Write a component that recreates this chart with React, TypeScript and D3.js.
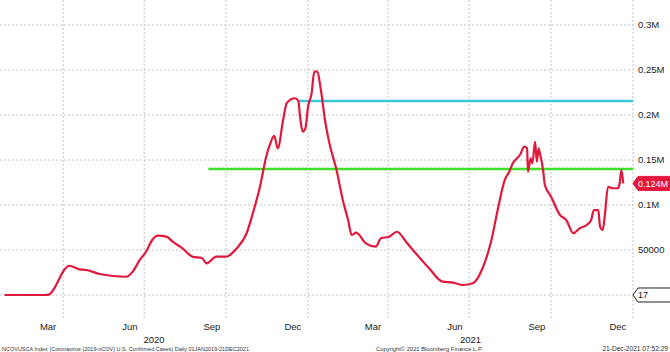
import { useEffect, useRef } from "react";
import * as d3 from "d3";

// NCOVUSCA daily confirmed cases
const dates2020 = [
  "2020-01-26", "2020-03-11", "2020-03-16", "2020-03-22", "2020-03-28", "2020-04-02", "2020-04-08", "2020-04-19",
  "2020-04-27", "2020-05-12", "2020-05-27", "2020-06-11", "2020-06-18", "2020-06-26", "2020-07-03", "2020-07-10",
  "2020-07-16", "2020-07-26", "2020-08-02", "2020-08-13", "2020-08-24", "2020-09-04", "2020-09-09", "2020-09-20",
  "2020-10-01", "2020-10-13", "2020-10-24", "2020-10-31", "2020-11-08", "2020-11-15", "2020-11-19", "2020-11-24",
  "2020-11-28", "2020-12-04", "2020-12-08", "2020-12-17", "2020-12-21", "2020-12-23", "2020-12-26", "2020-12-29",
];
const cases2020 = [
  0, 0, 500, 7400, 19000, 27800, 32500, 28500,
  27800, 23300, 21100, 20300, 25900, 38900, 48100, 61100,
  65900, 64800, 59200, 51900, 42600, 40800, 35200, 42600,
  42600, 51900, 68600, 90800, 120300, 153700, 166700, 176700,
  163000, 194400, 213000, 218600, 215900, 198100, 181400, 185200,
];
const dates2021 = [
  "2021-01-01", "2021-01-05", "2021-01-08", "2021-01-11", "2021-01-16", "2021-01-20", "2021-01-25", "2021-02-02",
  "2021-02-09", "2021-02-15", "2021-02-19", "2021-02-24", "2021-03-07", "2021-03-18", "2021-03-24", "2021-04-02",
  "2021-04-11", "2021-04-21", "2021-05-02", "2021-05-17", "2021-06-01", "2021-06-13", "2021-06-24", "2021-07-05",
  "2021-07-16", "2021-07-26", "2021-08-02", "2021-08-10", "2021-08-15", "2021-08-19", "2021-08-27", "2021-09-01",
  "2021-09-04", "2021-09-05", "2021-09-08", "2021-09-10", "2021-09-13", "2021-09-15", "2021-09-17", "2021-09-18",
  "2021-09-22", "2021-09-24", "2021-10-01", "2021-10-11", "2021-10-18", "2021-10-26", "2021-11-02", "2021-11-10",
  "2021-11-15", "2021-11-18", "2021-11-23", "2021-11-25", "2021-11-28", "2021-11-30", "2021-12-04", "2021-12-09",
  "2021-12-15", "2021-12-17", "2021-12-19", "2021-12-21",
];
const cases2021 = [
  209200, 224100, 248100, 248100, 224100, 194400, 168600, 138900,
  105600, 83300, 66700, 69200, 57400, 53700, 63000, 64800,
  70300, 59200, 46300, 29700, 14800, 13700, 11100, 13000,
  29700, 61100, 94400, 127800, 137000, 146300, 155600, 164800,
  163000, 137000, 151900, 146300, 170300, 148100, 163000, 159200,
  138900, 122200, 109200, 88900, 83300, 68600, 74100, 77800,
  83300, 94400, 94400, 75900, 72200, 85200, 120300, 118600,
  118600, 124100, 138900, 124000,
];

// horizontal reference levels (green, cyan)
const levelStarts = ["2020-09-11", "2020-12-21"];
const levelValues = [140000, 215500];

const yTicks = [0, 50000, 100000, 150000, 200000, 250000, 300000];
const yTickLabels = ["", "50000", "0.1M", "0.15M", "0.2M", "0.25M", "0.3M"];
const monthNames = ["Mar", "Jun", "Sep", "Dec"];
const years = [2020, 2021];

const lastLabel = "0.124M";
const lastValue = 124000;
const otherLabel = "17";
const otherValue = 17;

const footerLeft = "NCOVUSCA Index (Coronavirus (2019-nCOV) U.S. Confirmed Cases)  Daily 01JAN2019-21DEC2021";
const footerMid = "Copyright\u00a9 2021 Bloomberg Finance L.P.";
const footerRight = "21-Dec-2021 07:52:29";

export default function App() {
  const svgRef = useRef<SVGSVGElement>(null);

  useEffect(() => {
    if (!svgRef.current) return;
    const svg = d3.select(svgRef.current);
    svg.selectAll("*").remove();

    const width = 670;
    const height = 352;
    const font = "'Liberation Sans', Arial, sans-serif";
    const parse = d3.timeParse("%Y-%m-%d");

    const data = [
      ...dates2020.map((d, i) => ({ date: parse(d)!, v: cases2020[i] })),
      ...dates2021.map((d, i) => ({ date: parse(d)!, v: cases2021[i] })),
    ];

    const x = d3
      .scaleTime()
      .domain([new Date(2020, 0, 21), new Date(2022, 0, 1)])
      .range([0, 633]);
    const y = d3.scaleLinear().domain([0, 300000]).range([295, 25]);
    const right = x(new Date(2022, 0, 1));

    svg.attr("viewBox", `0 0 ${width} ${height}`);
    svg.append("rect").attr("width", width).attr("height", height).attr("fill", "#ffffff");

    // Grid
    svg
      .selectAll(".grid-y")
      .data(yTicks)
      .join("line")
      .attr("x1", 0)
      .attr("x2", right)
      .attr("y1", (d) => y(d))
      .attr("y2", (d) => y(d))
      .attr("stroke", "#c4c4c4")
      .attr("stroke-width", 1)
      .attr("stroke-dasharray", "2,2");

    const quarterLines = d3.timeMonth
      .range(new Date(2020, 1, 1), new Date(2022, 0, 2))
      .filter((d) => d.getMonth() % 3 === 0);
    svg
      .selectAll(".grid-x")
      .data(quarterLines)
      .join("line")
      .attr("x1", (d) => x(d))
      .attr("x2", (d) => x(d))
      .attr("y1", 0)
      .attr("y2", 318)
      .attr("stroke", "#c4c4c4")
      .attr("stroke-width", 1)
      .attr("stroke-dasharray", "2,2");

    // Reference levels
    const levelColors = ["#3ee02a", "#3cc6d6"];
    levelValues.forEach((v, i) => {
      svg
        .append("line")
        .attr("x1", x(parse(levelStarts[i])!))
        .attr("x2", right)
        .attr("y1", y(v))
        .attr("y2", y(v))
        .attr("stroke", levelColors[i])
        .attr("stroke-width", 2.5);
    });

    // Cases line
    const line = d3
      .line<(typeof data)[0]>()
      .x((d) => x(d.date))
      .y((d) => y(d.v))
      .curve(d3.curveMonotoneX);
    svg
      .append("path")
      .datum(data)
      .attr("d", line)
      .attr("fill", "none")
      .attr("stroke", "#e0183c")
      .attr("stroke-width", 2.2)
      .attr("stroke-linejoin", "round");

    // Right axis labels
    svg
      .selectAll(".ytick")
      .data(yTicks.filter((_, i) => yTickLabels[i] !== ""))
      .join("text")
      .attr("x", 638)
      .attr("y", (d) => y(d))
      .attr("dy", "0.35em")
      .attr("fill", "#1a1a1a")
      .attr("font-family", font)
      .attr("font-size", "9.5px")
      .text((d) => yTickLabels[yTicks.indexOf(d)]);

    // Last value tags
    const tag = (v: number, label: string, fill: string, stroke: string, color: string) => {
      const ty = y(v);
      const x0 = 633;
      svg
        .append("path")
        .attr(
          "d",
          `M${x0},${ty} L${x0 + 5},${ty - 7} L${width + 2},${ty - 7} L${width + 2},${ty + 7} L${x0 + 5},${ty + 7} Z`
        )
        .attr("fill", fill)
        .attr("stroke", stroke)
        .attr("stroke-width", 1);
      svg
        .append("text")
        .attr("x", x0 + 5)
        .attr("y", ty)
        .attr("dy", "0.35em")
        .attr("fill", color)
        .attr("font-family", font)
        .attr("font-size", "9px")
        .text(label);
    };
    tag(lastValue, lastLabel, "#e3173e", "#e3173e", "#ffffff");
    tag(otherValue, otherLabel, "#ffffff", "#222222", "#111111");

    // Month labels
    const months = d3.timeMonth
      .range(new Date(2020, 1, 1), new Date(2022, 0, 1))
      .filter((d) => d.getMonth() % 3 === 2);
    svg
      .selectAll(".month")
      .data(months)
      .join("text")
      .attr("x", (d) => x(new Date(d.getFullYear(), d.getMonth(), 15)))
      .attr("y", 330)
      .attr("text-anchor", "middle")
      .attr("fill", "#1a1a1a")
      .attr("font-family", font)
      .attr("font-size", "9.5px")
      .text((d) => monthNames[Math.floor(d.getMonth() / 3)]);

    // Year labels centred on each visible year
    svg
      .selectAll(".year")
      .data(years)
      .join("text")
      .attr("x", (d) => {
        const a = Math.max(x(new Date(d, 0, 1)), 0);
        const b = Math.min(x(new Date(d + 1, 0, 1)), right);
        return (a + b) / 2;
      })
      .attr("y", 343)
      .attr("text-anchor", "middle")
      .attr("fill", "#1a1a1a")
      .attr("font-family", font)
      .attr("font-size", "9.5px")
      .text((d) => String(d));

    // Footer
    const footer = [
      { t: footerLeft, x: 2, anchor: "start", size: 5.5 },
      { t: footerMid, x: 376, anchor: "start", size: 5.8 },
      { t: footerRight, x: 668, anchor: "end", size: 6.6 },
    ];
    svg
      .selectAll(".footer")
      .data(footer)
      .join("text")
      .attr("x", (d) => d.x)
      .attr("y", 350.5)
      .attr("text-anchor", (d) => d.anchor)
      .attr("fill", "#333333")
      .attr("font-family", font)
      .attr("font-size", (d) => `${d.size}px`)
      .text((d) => d.t);
  }, []);

  return (
    <div style={{ position: "absolute", left: 0, top: 0, width: 670, height: 352 }}>
      <svg ref={svgRef} width={670} height={352} style={{ display: "block" }} />
    </div>
  );
}
